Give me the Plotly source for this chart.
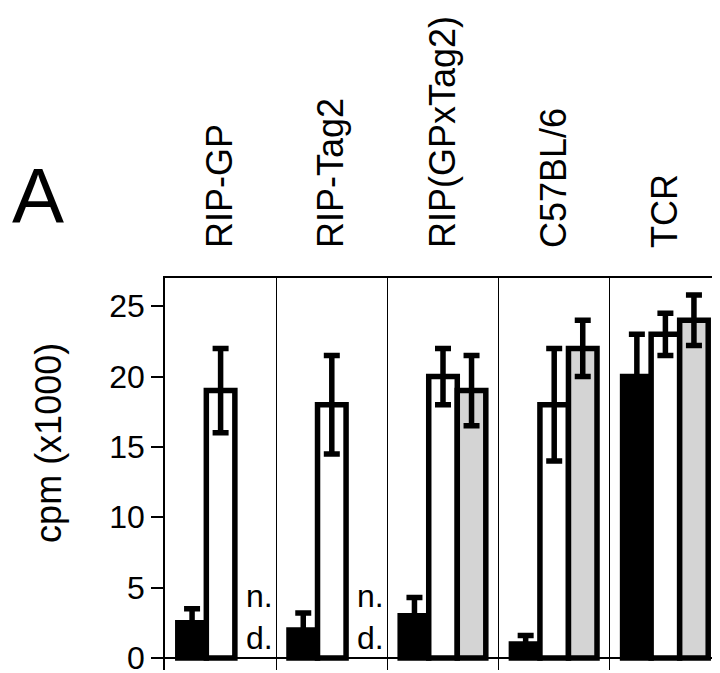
import plotly.graph_objects as go

categories = ["RIP-GP", "RIP-Tag2", "RIP(GPxTag2)", "C57BL/6", "TCR"]
black_vals = [2.5, 2.0, 3.0, 1.0, 20.0]
black_err = [1.0, 1.2, 1.3, 0.6, 3.0]
white_vals = [19.0, 18.0, 20.0, 18.0, 23.0]
white_err = [3.0, 3.5, 2.0, 4.0, 1.5]
grey_vals = [None, None, 19.0, 22.0, 24.0]
grey_err = [0, 0, 2.5, 2.0, 1.8]
nd_categories = ["RIP-GP", "RIP-Tag2"]
y_ticks = [0, 5, 10, 15, 20, 25]

FONT = "Liberation Sans, Arial, Helvetica, sans-serif"

fig = go.Figure()
for vals, errs, fill in [(black_vals, black_err, "black"),
                         (white_vals, white_err, "white"),
                         (grey_vals, grey_err, "#d4d4d4")]:
    fig.add_trace(go.Bar(
        x=categories, y=vals,
        marker=dict(color=fill, line=dict(color="black", width=5.5)),
        error_y=dict(type="data", array=errs, visible=True,
                     color="black", thickness=5.5, width=8),
        showlegend=False,
    ))

for c in nd_categories:
    fig.add_annotation(x=c, y=0, xref="x", yref="y", text="n.<br>d.",
                       showarrow=False, xanchor="left", yanchor="bottom",
                       xshift=23, align="left",
                       font=dict(family=FONT, size=32, color="black"))

fig.add_annotation(x=-0.21, y=0.58, xref="paper", yref="paper",
                   text="cpm (x1000)", textangle=-90, showarrow=False,
                   xanchor="center", yanchor="middle",
                   font=dict(family=FONT, size=36, color="black"))
fig.add_annotation(x=-0.279, y=1.21, xref="paper", yref="paper",
                   text="A", showarrow=False, xanchor="left", yanchor="middle",
                   font=dict(family=FONT, size=78, color="black"))

fig.update_layout(
    width=720, height=673,
    margin=dict(l=157, r=5, t=270, b=8),
    paper_bgcolor="white", plot_bgcolor="white",
    barmode="group", bargap=0.23, bargroupgap=0,
    font=dict(family=FONT, color="black"),
    xaxis=dict(type="category", side="top", tickangle=-90,
               tickfont=dict(family=FONT, size=36, color="black"),
               ticks="", ticklabelstandoff=21,
               showline=True, linecolor="black", linewidth=1.5,
               tickson="boundaries", showgrid=True,
               gridcolor="black", gridwidth=1.2),
    yaxis=dict(range=[-0.85, 27], tickvals=y_ticks,
               tickfont=dict(family=FONT, size=32, color="black"),
               ticks="outside", ticklen=12, tickwidth=1.5, tickcolor="black",
               showline=True, linecolor="black", linewidth=1.5, mirror=True,
               showgrid=False, zeroline=True, zerolinecolor="black",
               zerolinewidth=2),
)

fig.write_html("out.html")
